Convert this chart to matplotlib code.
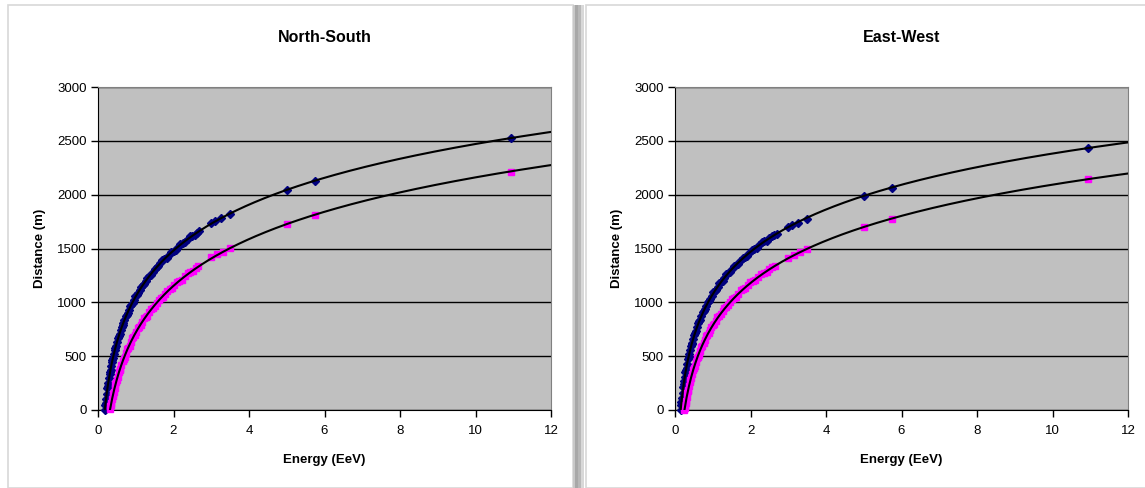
import numpy as np
import matplotlib as mpl
import matplotlib.pyplot as plt
from matplotlib.patches import Rectangle

mpl.use("agg")
plt.rcParams["font.family"] = ["Liberation Sans", "DejaVu Sans"]

# North-South, upper series (blue diamonds)
ns_blue_x = [0.18, 0.2, 0.23, 0.26, 0.29, 0.32, 0.35, 0.38, 0.42, 0.46, 0.5,
             0.55, 0.6, 0.65, 0.7, 0.76, 0.82, 0.88, 0.95, 1.02, 1.1, 1.18,
             1.27, 1.36, 1.45, 1.55, 1.65, 1.76, 1.88, 2.0, 2.12, 2.25, 2.38,
             2.5, 2.62, 3.0, 3.1, 3.25, 3.5, 5.0, 5.75, 10.95,
             0.19, 0.215, 0.245, 0.275, 0.305, 0.335, 0.365, 0.4, 0.44, 0.48,
             0.525, 0.575, 0.625, 0.675, 0.73, 0.79, 0.85, 0.915, 0.985, 1.06,
             1.14, 1.22, 1.31, 1.4, 1.5, 1.6, 1.7, 1.82, 1.94, 2.06, 2.18,
             2.31, 2.44, 2.56, 2.68]
ns_blue_y = [0, 65, 151, 227, 294, 354, 409, 460, 521, 577, 629,
             687, 741, 790, 836, 886, 933, 976, 1023, 1067, 1114, 1157,
             1202, 1244, 1284, 1325, 1363, 1403, 1443, 1481, 1517, 1554, 1588,
             1619, 1647, 1735, 1751, 1780, 1820, 2045, 2125, 2530,
             42, 100, 202, 253, 335, 370, 444, 484, 560, 595,
             670, 705, 775, 805, 871, 901, 963, 990, 1055, 1083,
             1146, 1168, 1229, 1252, 1313, 1336, 1391, 1414, 1471, 1489, 1543,
             1562, 1614, 1624, 1667]

# North-South, lower series (magenta squares)
ns_pink_x = [0.32, 0.34, 0.37, 0.4, 0.44, 0.48, 0.52, 0.57, 0.62, 0.68, 0.74,
             0.8, 0.87, 0.94, 1.01, 1.09, 1.17, 1.26, 1.35, 1.45, 1.55, 1.66,
             1.78, 1.9, 2.02, 2.15, 2.3, 2.45, 2.6, 3.0, 3.15, 3.3, 3.5,
             5.0, 5.75, 10.95,
             0.33, 0.355, 0.385, 0.42, 0.46, 0.5, 0.545, 0.595, 0.65, 0.71,
             0.77, 0.835, 0.905, 0.975, 1.05, 1.13, 1.215, 1.305, 1.4, 1.5,
             1.605, 1.72, 1.84, 1.96, 2.085, 2.225, 2.375, 2.525, 2.65]
ns_pink_y = [5, 45, 98, 146, 206, 260, 310, 368, 420, 478, 531,
             580, 632, 680, 725, 773, 817, 863, 907, 951, 993, 1036,
             1079, 1120, 1159, 1197, 1240, 1279, 1316, 1420, 1445, 1468, 1505,
             1730, 1812, 2215,
             34, 62, 132, 168, 244, 278, 350, 385, 459, 495,
             565, 598, 667, 694, 758, 785, 850, 877, 939, 963,
             1024, 1048, 1109, 1132, 1188, 1210, 1269, 1288, 1336]

# East-West, upper series
ew_blue_x = [0.15, 0.17, 0.2, 0.23, 0.26, 0.29, 0.32, 0.36, 0.4, 0.44, 0.48,
             0.53, 0.58, 0.64, 0.7, 0.76, 0.83, 0.9, 0.97, 1.05, 1.13, 1.22,
             1.31, 1.41, 1.51, 1.62, 1.73, 1.85, 1.97, 2.1, 2.23, 2.37, 2.5,
             2.63, 3.0, 3.1, 3.25, 3.5, 5.0, 5.75, 10.95,
             0.16, 0.185, 0.215, 0.245, 0.275, 0.305, 0.34, 0.38, 0.42, 0.46,
             0.505, 0.555, 0.61, 0.67, 0.73, 0.795, 0.865, 0.935, 1.01, 1.09,
             1.175, 1.265, 1.36, 1.46, 1.565, 1.675, 1.79, 1.91, 2.035, 2.165,
             2.3, 2.435, 2.565, 2.69]
ew_blue_y = [0, 70, 162, 241, 311, 373, 429, 496, 556, 610, 659,
             715, 767, 822, 873, 920, 970, 1016, 1059, 1104, 1145, 1189,
             1229, 1271, 1310, 1350, 1387, 1425, 1461, 1497, 1532, 1566, 1596,
             1625, 1700, 1719, 1735, 1778, 1990, 2065, 2435,
             43, 108, 213, 268, 353, 394, 473, 517, 592, 625,
             697, 734, 805, 840, 906, 936, 1003, 1030, 1092, 1116,
             1177, 1200, 1260, 1283, 1340, 1360, 1416, 1434, 1489, 1507,
             1559, 1573, 1620, 1632]

# East-West, lower series
ew_pink_x = [0.25, 0.26, 0.28, 0.31, 0.34, 0.37, 0.41, 0.45, 0.5, 0.55, 0.6,
             0.66, 0.72, 0.79, 0.86, 0.93, 1.0, 1.08, 1.17, 1.26, 1.36, 1.46,
             1.57, 1.68, 1.8, 1.93, 2.06, 2.2, 2.35, 2.5, 2.65, 3.0, 3.15,
             3.3, 3.5, 5.0, 5.75, 10.95,
             0.27, 0.295, 0.325, 0.355, 0.39, 0.43, 0.475, 0.525, 0.575, 0.63,
             0.69, 0.755, 0.825, 0.895, 0.965, 1.04, 1.125, 1.215, 1.31, 1.41,
             1.515, 1.625, 1.74, 1.865, 1.995, 2.13, 2.275, 2.425, 2.575]
ew_pink_y = [0, 21, 63, 121, 173, 221, 279, 332, 392, 446, 496,
             550, 599, 652, 700, 745, 786, 830, 875, 917, 961, 1001,
             1042, 1081, 1120, 1160, 1197, 1234, 1271, 1306, 1340, 1410, 1438,
             1464, 1498, 1700, 1772, 2145,
             50, 83, 158, 189, 261, 299, 373, 411, 481, 514,
             584, 618, 687, 714, 775, 798, 862, 889, 949, 972,
             1031, 1052, 1110, 1132, 1188, 1206, 1262, 1279, 1331]

panels = [
    ("North-South", ns_blue_x, ns_blue_y, ns_pink_x, ns_pink_y),
    ("East-West", ew_blue_x, ew_blue_y, ew_pink_x, ew_pink_y),
]

W, H = 1145, 488
fig = plt.figure(figsize=(W / 100, H / 100), dpi=100)
fig.patch.set_facecolor("white")

# chart window frames and the shadow between them
fig.patches.append(Rectangle((8 / W, 0), 565 / W, 483 / H, transform=fig.transFigure,
                             facecolor="none", edgecolor="#d8d8d8", lw=1.2))
fig.patches.append(Rectangle((586 / W, 0), 565 / W, 483 / H, transform=fig.transFigure,
                             facecolor="none", edgecolor="#d8d8d8", lw=1.2))
for x0, c in [(573, "#c8c8c8"), (575, "#a8a8a8"), (578, "#b8b8b8"), (581, "#d8d8d8")]:
    fig.patches.append(Rectangle((x0 / W, 0), 3 / W, 483 / H, transform=fig.transFigure,
                                 facecolor=c, edgecolor="none"))

ax_left = [98, 675]
ax_w = 453


def log_trend(x, y):
    # Excel-style logarithmic trendline
    a, b = np.polyfit(np.log(x), y, 1)
    x0 = np.exp(-b / a)
    xs = np.linspace(x0, 12, 400)
    return xs, a * np.log(xs) + b


for (title, bx, by, px, py), left in zip(panels, ax_left):
    ax = fig.add_axes([left / W, (H - 410) / H, ax_w / W, 323 / H])
    ax.set_facecolor("#c0c0c0")
    ax.set_xlim(0, 12)
    ax.set_ylim(0, 3000)
    ax.set_xticks(np.arange(0, 13, 2))
    ax.set_yticks(np.arange(0, 3001, 500))
    ax.yaxis.grid(True, color="black", lw=1.0)
    ax.set_axisbelow(True)

    ax.plot(bx, by, ls="none", marker="D", ms=4.4, color="#000080",
            mec="#000080", clip_on=False, zorder=3)
    ax.plot(px, py, ls="none", marker="s", ms=4.8, color="#ff00ff",
            mec="#ff00ff", clip_on=False, zorder=3)
    for xx, yy in [(bx, by), (px, py)]:
        tx, ty = log_trend(xx, yy)
        ax.plot(tx, ty, color="black", lw=1.5, zorder=4)

    for side in ["top", "right"]:
        ax.spines[side].set_color("#808080")
    for side in ["left", "bottom"]:
        ax.spines[side].set_color("black")
    ax.tick_params(direction="out", length=5, width=1, labelsize=9.5,
                   colors="black", pad=3)
    ax.tick_params(axis="x", pad=6)

    ax.set_xlabel("Energy (EeV)", fontsize=9.5, fontweight="bold")
    ax.set_ylabel("Distance (m)", fontsize=9.5, fontweight="bold")
    ax.xaxis.set_label_coords(0.5, -0.135)
    ax.yaxis.set_label_coords(-0.115, 0.5)

    fig.text((left + ax_w / 2) / W, 1 - 37 / H, title, ha="center", va="center",
             fontsize=11.5, fontweight="bold")

fig.savefig("out.png", dpi=100, facecolor="white")
